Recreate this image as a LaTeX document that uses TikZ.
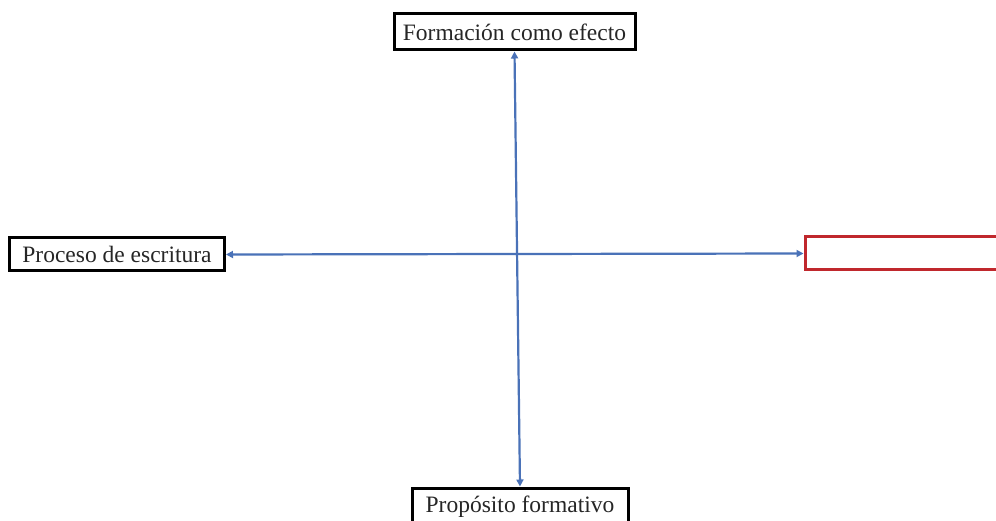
\documentclass[tikz,border=0pt]{standalone}
\usepackage{fontspec}
\setmainfont{Liberation Serif}
\usetikzlibrary{arrows.meta}
\definecolor{lineblue}{HTML}{4A72B8}
\definecolor{boxred}{HTML}{C0282D}
\begin{document}
\begin{tikzpicture}[x=1pt,y=-1pt,
  labelbox/.style={draw=black,line width=3pt,fill=white,inner sep=0pt,
    font=\fontsize{23.5}{28}\selectfont,text=black!85},
  emptybox/.style={draw=boxred,line width=3pt,fill=white,inner sep=0pt},
  axis/.style={draw=lineblue,line width=2.2pt,{Triangle[length=7pt,width=7pt]}-{Triangle[length=7pt,width=7pt]}}]
\useasboundingbox (0,0) rectangle (996,521);
\clip (0,0) rectangle (996,521);
\fill[white] (0,0) rectangle (996,521);
\node[labelbox,minimum width=241pt,minimum height=36pt] (top) at (514.5,32) {Formación como efecto};
\node[labelbox,minimum width=215pt,minimum height=33pt] (left) at (117,254.5) {Proceso de escritura};
\node[emptybox,minimum width=200pt,minimum height=33pt] (right) at (905,253.5) {};
\node[labelbox,minimum width=216pt,minimum height=38pt] (bottom) at (520,507) {Propósito formativo};
\draw[axis] (top.south) -- (bottom.north);
\draw[axis] (left.east) -- (right.west);
\end{tikzpicture}
\end{document}
